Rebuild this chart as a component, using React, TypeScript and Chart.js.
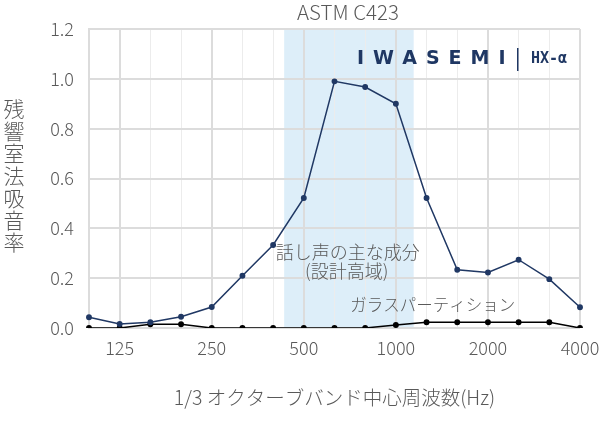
import React, { useEffect, useRef } from 'react';
import { Chart, registerables } from 'chart.js';

Chart.register(...registerables);

const freqs = ['100', '125', '160', '200', '250', '315', '400', '500', '630', '800', '1000', '1250', '1600', '2000', '2500', '3150', '4000'];
const tickLabels = ['125', '250', '500', '1000', '2000', '4000'];
const hxAlpha = [0.043, 0.016, 0.023, 0.045, 0.084, 0.21, 0.333, 0.522, 0.99, 0.967, 0.9, 0.522, 0.234, 0.223, 0.274, 0.196, 0.083];
const glass = [0.0, 0.0, 0.015, 0.015, 0.0, 0.0, 0.0, 0.0, 0.0, 0.0, 0.012, 0.023, 0.023, 0.023, 0.023, 0.023, 0.0];
const yTicks = [0, 0.2, 0.4, 0.6, 0.8, 1.0, 1.2];

const chartTitle = 'ASTM C423';
const yTitle = '残響室法吸音率';
const xTitle = '1/3 オクターブバンド中心周波数(Hz)';
const speechLabel1 = '話し声の主な成分';
const speechLabel2 = '(設計高域)';
const glassLabel = 'ガラスパーティション';
const logoText = 'IWASEMI';
const modelText = 'HX-α';
// speech band (in band-index units)
const bandStart = 6.36;
const bandEnd = 10.58;

const FONT = "'Noto Sans CJK JP', 'Noto Sans', sans-serif";
const GRAY = '#595959';

const decorPlugin = {
  id: 'decor',
  beforeDraw(chart: any) {
    const { ctx, chartArea, scales } = chart;
    const x = scales.x;
    const x0 = x.getPixelForValue(bandStart);
    const x1 = x.getPixelForValue(bandEnd);
    ctx.save();
    ctx.fillStyle = '#ddeef9';
    ctx.fillRect(x0, chartArea.top, x1 - x0, chartArea.bottom - chartArea.top);
    ctx.restore();
  },
  afterDatasetsDraw(chart: any) {
    const { ctx, scales, chartArea } = chart;
    const x = scales.x;
    const y = scales.y;
    ctx.save();
    ctx.fillStyle = GRAY;
    ctx.textAlign = 'center';
    ctx.textBaseline = 'middle';

    // chart title
    ctx.font = `300 20.5px ${FONT}`;
    ctx.fillText(chartTitle, 348, 12);

    // x title
    ctx.font = `300 19.5px ${FONT}`;
    ctx.fillText(xTitle, (chartArea.left + chartArea.right) / 2, 398);

    ctx.font = `300 18px ${FONT}`;
    ctx.fillText(speechLabel1, x.getPixelForValue(8.43), y.getPixelForValue(0.306));
    ctx.fillText(speechLabel2, x.getPixelForValue(8.4), y.getPixelForValue(0.23));
    ctx.font = `300 16.5px ${FONT}`;
    ctx.fillText(glassLabel, x.getPixelForValue(11.2), y.getPixelForValue(0.094));

    // y title, stacked characters
    ctx.font = `300 21px ${FONT}`;
    const chars = Array.from(yTitle);
    chars.forEach((c, i) => {
      ctx.fillText(c, 14, 109 + i * 22.2);
    });

    // logo
    ctx.fillStyle = '#1f3763';
    ctx.textAlign = 'left';
    ctx.font = `bold 19px 'DejaVu Sans', sans-serif`;
    (ctx as any).letterSpacing = '9px';
    ctx.fillText(logoText, 357, 59);
    (ctx as any).letterSpacing = '0px';
    ctx.fillRect(517, 48, 1.5, 23);
    ctx.font = `bold 15px 'DejaVu Sans Mono', monospace`;
    ctx.fillText(modelText, 531, 59);
    ctx.restore();
  },
};

export default function App() {
  const ref = useRef<HTMLCanvasElement>(null);
  useEffect(() => {
    document.body.style.margin = '0';
    if (!ref.current) return;
    const chart = new Chart(ref.current, {
      type: 'line',
      data: {
        labels: freqs,
        datasets: [
          {
            label: 'HX-α',
            data: hxAlpha,
            borderColor: '#203864',
            backgroundColor: '#203864',
            borderWidth: 1.5,
            pointRadius: 2.2,
            pointHoverRadius: 2.2,
            tension: 0,
          },
          {
            label: glassLabel,
            data: glass,
            borderColor: '#000000',
            backgroundColor: '#000000',
            borderWidth: 1.5,
            pointRadius: 2.2,
            tension: 0,
          },
        ],
      },
      options: {
        responsive: false,
        animation: false,
        layout: { padding: { left: 0, right: 20, top: 29, bottom: 0 } },
        plugins: {
          legend: { display: false },
          tooltip: { enabled: false },
          title: { display: false },
        },
        scales: {
          x: {
            type: 'category',
            offset: false,
            grid: {
              drawTicks: false,
              color: (c: any) => (tickLabels.includes(freqs[c.index]) ? '#dcdcdc' : '#ececec'),
              lineWidth: (c: any) => (tickLabels.includes(freqs[c.index]) ? 2 : 1),
            },
            border: { display: false },
            ticks: {
              autoSkip: false,
              maxRotation: 0,
              padding: 9,
              color: GRAY,
              font: { family: FONT, size: 18, weight: '300' as any },
              callback: (_v: any, i: number) => (tickLabels.includes(freqs[i]) ? freqs[i] : ''),
            },
            afterFit: (s: any) => {
              s.height = 97;
              s.paddingLeft = 0;
              s.paddingRight = 0;
            },
          },
          y: {
            min: 0,
            max: 1.2,
            afterBuildTicks: (s: any) => {
              s.ticks = yTicks.map((v) => ({ value: v }));
            },
            grid: { drawTicks: false, color: '#dcdcdc', lineWidth: 2 },
            border: { display: true, color: '#dcdcdc', width: 2 },
            ticks: {
              padding: 15,
              color: GRAY,
              font: { family: FONT, size: 18, weight: '300' as any },
              callback: (v: any) => Number(v).toFixed(1),
            },
            afterFit: (s: any) => {
              s.width = 89;
              s.paddingTop = 0;
              s.paddingBottom = 0;
            },
          },
        },
      },
      plugins: [decorPlugin],
    });
    return () => chart.destroy();
  }, []);
  return (
    <div style={{ width: 600, height: 425 }}>
      <canvas ref={ref} width={600} height={425} style={{ display: 'block' }} />
    </div>
  );
}
